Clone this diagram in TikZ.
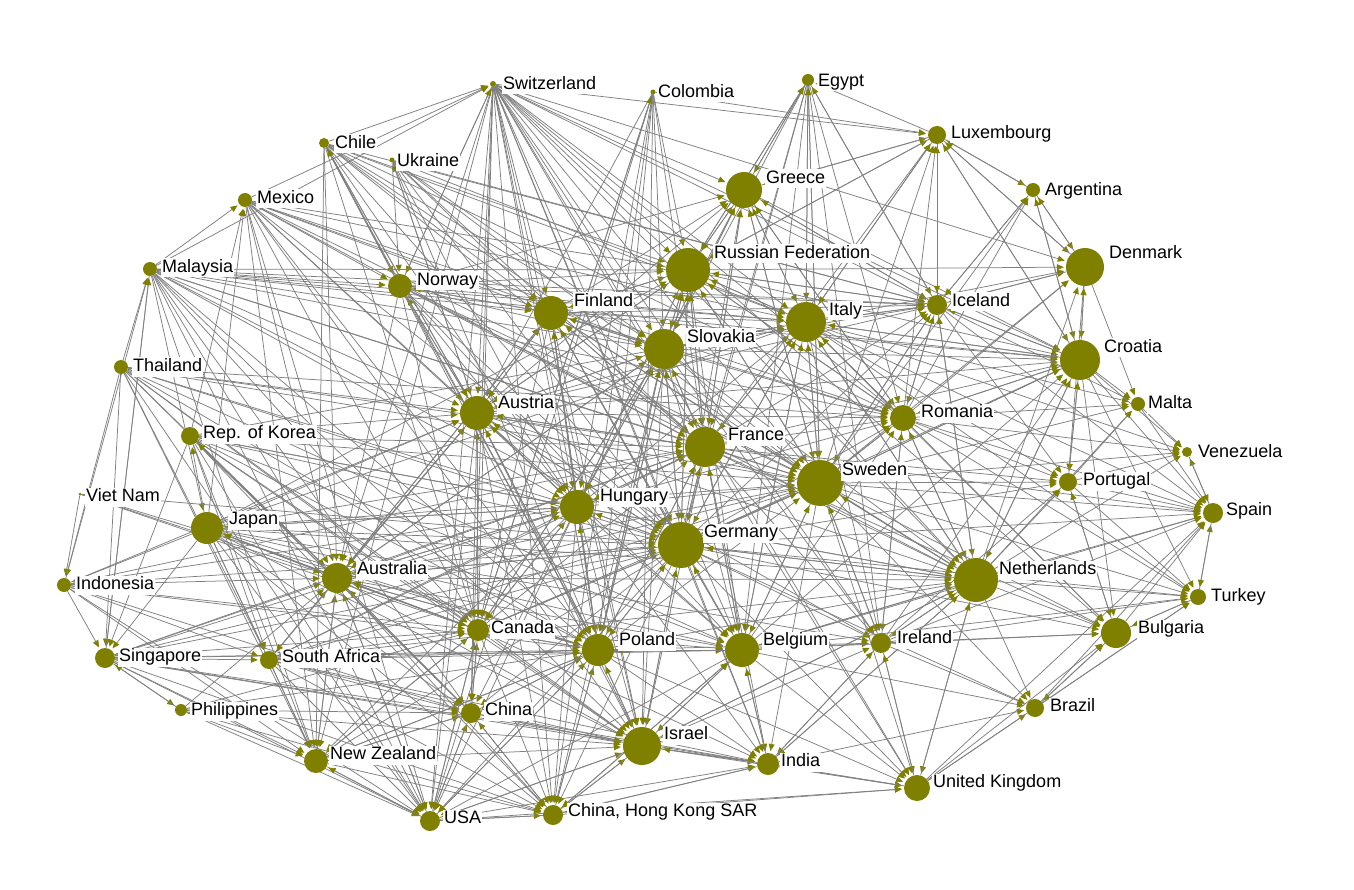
\documentclass[tikz,border=0pt]{standalone}
\usepackage{fontspec}
\setmainfont{Liberation Sans}
\usetikzlibrary{arrows.meta}
\definecolor{olv}{RGB}{128,128,0}
\definecolor{edg}{RGB}{128,128,128}
\pgfdeclarelayer{bg}
\pgfdeclarelayer{edges}
\pgfsetlayers{bg,edges,main}
\tikzset{
  vtx/.style={circle,fill=olv,draw=none,inner sep=0pt},
  lbl/.style={anchor=west,fill=white,inner sep=1pt,text height=13pt,text depth=4pt,font=\fontsize{18}{20}\selectfont,text=black},
  edge/.style={draw=edg,line width=0.75pt,shorten >=2pt,-{Triangle[length=7pt,width=6pt,color=olv]}}
}
\begin{document}
\begin{tikzpicture}[x=1pt,y=-1pt]
\begin{pgfonlayer}{bg}
\fill[white] (0,0) rectangle (1354,890);
\end{pgfonlayer}
\useasboundingbox (0,0) rectangle (1354,890);
\foreach \n/\x/\y/\d in {
 SUI/493/84/6, COL/653/92/5, EGY/808/80/12, CHL/324/143/10, UKR/392/160/5,
 LUX/937/135/18, GRE/744/190/36, ARG/1033/190/14, MEX/245/200/14, MAS/150/269/14,
 RUS/688/270/44, DEN/1085/267/38, NOR/400/286/24, FIN/551/313/34, ITA/806/322/40,
 ISL/937/305/20, SVK/664/349/40, CRO/1080/360/40, THA/121/367/14, AUT/477/413/34,
 ROU/903/418/26, MLT/1138/404/14, KOR/190/436/18, FRA/705/447/40, SWE/820/483/46,
 VEN/1187/452/10, VIE/80/494/3, POR/1068/482/18, HUN/577/507/34, JPN/207/528/32,
 ESP/1213/513/20, GER/681/545/46, AUS/337/578/30, NED/976/580/44, INA/64/585/14,
 TUR/1198/597/16, BUL/1116/633/30, CAN/478/630/22, POL/598/650/32, BEL/742/650/34,
 IRL/881/643/20, SIN/105/658/20, RSA/269/660/18, PHI/181/710/12, CHN/471/713/20,
 BRA/1035/708/18, ISR/642/746/38, NZL/316/761/24, IND/768/764/22, GBR/917/788/26,
 USA/430/821/20, HKG/553/815/20}
{\node[vtx,minimum size=\d pt] (\n) at (\x,\y) {};}
\begin{pgfonlayer}{edges}
\foreach \s/\tl in {
 SUI/{GRE,RUS,FIN,SVK,ITA,AUT,HUN,FRA,GER,SWE,POL,CAN,AUS,ISR,BEL,USA,HKG,CHN,NZL,NED,IRL,NOR,LUX,ISL,ROU,CRO,IND,GBR,BUL,DEN},
 COL/{CAN,POL,ISR,SVK,FRA,RUS,HUN,AUT,LUX,USA,HKG},
 EGY/{GRE,ITA,RUS,FRA,SWE,ISL,ROU,GER,SVK,IRL,BEL},
 CHL/{NOR,FIN,AUT,RUS,SVK,HUN,SWE,GER,AUS,CAN,ISR,ITA,FRA,POL,NZL,ROU,ISL,SUI},
 UKR/{AUT,HUN,SVK,GER,POL,NOR,FIN,FRA,SWE,ITA,ISL},
 MEX/{AUT,FIN,RUS,SVK,ITA,GER,AUS,HUN,CAN,NOR,POL,FRA,ISR,USA,NZL,SWE,ROU,SUI},
 MAS/{NOR,FIN,AUT,GER,AUS,CAN,RUS,HUN,SVK,ITA,FRA,POL,SWE,ISL,CHN,NZL,USA,SIN,JPN,ROU,ISR,CRO,MEX,SUI},
 THA/{INA,AUS,AUT,CAN,GER,HUN,POL,FRA,SWE,ISR,NZL,USA,CHN,RSA,SIN,BEL,ROU,MAS},
 VIE/{INA,AUS,CAN,POL,GER},
 KOR/{AUS,AUT,HUN,GER,CAN,CHN,FRA,SWE,POL,ISR,BEL,NZL,USA,HKG,NED,ITA,SIN,RSA,MEX},
 JPN/{AUS,AUT,HUN,GER,CAN,CHN,POL,FRA,SWE,ISR,BEL,NED,NZL,USA,HKG,RSA,SIN,KOR,INA,IRL,ITA,RUS,MEX},
 INA/{SIN,AUS,CAN,HUN,GER,POL,NZL,USA,CHN,RSA,AUT,FRA,MAS},
 SIN/{AUS,CAN,NZL,USA,CHN,HKG,RSA,POL,HUN,GER,ISR,BEL,IND,PHI,FRA,SWE,MAS},
 RSA/{AUS,CAN,CHN,NZL,USA,POL,HUN,GER,ISR,BEL,HKG,IND,SWE,FRA,NED,AUT},
 PHI/{NZL,USA,AUS,CHN,CAN,POL,HKG,ISR,SIN},
 NZL/{USA,HKG,CHN,AUS,CAN,ISR,POL},
 USA/{HKG,CHN,CAN,AUS,NZL,POL,ISR,IND,GBR},
 HKG/{USA,ISR,IND,GBR,POL,CHN,BEL},
 CHN/{CAN,USA,HKG,ISR,POL,AUS,NZL,IND},
 CAN/{AUS,AUT,HUN,GER,POL,USA,HKG,NZL,ISR,CHN,FRA,BEL,SWE,SVK,IND,JPN,COL},
 AUS/{AUT,HUN,GER,CAN,CHN,NZL,USA,HKG,POL,ISR,FRA,BEL,SWE,NED,SVK,FIN,JPN,KOR,RSA},
 AUT/{FIN,RUS,SVK,HUN,FRA,GER,ITA,SWE,NOR,POL,BEL,ISR,CAN,AUS,NED,ROU,CRO,ISL,GRE,IRL,CHN,USA,HKG,CHL,UKR},
 HUN/{AUT,FIN,SVK,RUS,FRA,GER,POL,BEL,ISR,CAN,AUS,SWE,ITA,CHN,HKG,IND,NED,ROU,GRE,USA,NZL,JPN},
 NOR/{FIN,RUS,AUT,SVK,HUN,ITA,FRA,GER,SWE,CAN,AUS,POL,ISL,GRE,NED,BEL,CHL,SUI},
 FIN/{RUS,SVK,AUT,HUN,FRA,GER,ITA,SWE,POL,BEL,ISR,CAN,AUS,NED,ISL,GRE,NOR,ROU,CRO},
 RUS/{GRE,ITA,SVK,FRA,SWE,ISL,LUX,CRO,DEN,ROU,EGY,FIN,GER,NED,HUN,AUT,POL,BEL},
 GRE/{RUS,ITA,SVK,ISL,LUX,EGY,FRA,SWE,ROU,CRO},
 SVK/{RUS,FIN,ITA,FRA,AUT,HUN,GER,SWE,POL,BEL,ISR,CAN,AUS,NED,CRO,ROU,GRE,ISL,IRL,HKG},
 ITA/{RUS,GRE,ISL,SVK,FRA,SWE,CRO,ROU,GER,NED,BEL,IRL,LUX,DEN,ESP,POR,MLT,VEN,BUL,TUR,EGY},
 ISL/{LUX,CRO,ITA,RUS,SWE,ROU,NED,GRE,ARG,DEN,POR,MLT,ESP,EGY},
 LUX/{ISL,CRO,DEN,ARG,ITA,GRE,RUS,EGY},
 ARG/{DEN,CRO,ISL,LUX},
 DEN/{CRO,ARG,LUX,ISL,MLT,POR},
 CRO/{MLT,VEN,POR,ESP,TUR,BUL,DEN,ISL,ROU,NED,LUX,ARG,ITA,SWE},
 ROU/{ISL,ITA,CRO,SWE,NED,POR,MLT,VEN,ESP,TUR,BUL,IRL,LUX,DEN,GRE,RUS,ARG},
 FRA/{RUS,SVK,ITA,SWE,GER,HUN,AUT,FIN,BEL,POL,ISR,NED,ROU,CRO,ISL,IRL,IND,GBR,GRE,ESP,POR,LUX,BUL},
 SWE/{RUS,ITA,NED,ROU,CRO,ISL,DEN,GRE,POR,ESP,VEN,MLT,TUR,BUL,IRL,GBR,BRA,BEL,IND,LUX,ARG,EGY,GER},
 GER/{FRA,SVK,HUN,RUS,AUT,SWE,ITA,POL,BEL,ISR,NED,CAN,AUS,FIN,IRL,IND,GBR,CHN,HKG,USA,CRO,ROU,BUL,ESP,POR,TUR,BRA,NZL,GRE,ISL},
 POL/{HUN,GER,BEL,ISR,CAN,AUS,FRA,SVK,AUT,SWE,IND,HKG,CHN,USA,RUS,FIN,NZL,IRL,GBR,NED},
 BEL/{GER,POL,ISR,IRL,NED,SWE,FRA,ITA,IND,GBR,HKG,USA,BUL,BRA,TUR,ESP,ROU,CRO},
 NED/{SWE,IRL,GBR,BUL,TUR,ESP,POR,CRO,ROU,ITA,IND,BRA,VEN,MLT,DEN,ISL,BEL,GER,ISR},
 ISR/{POL,BEL,GER,IND,HKG,USA,GBR,IRL,NED,CHN},
 IRL/{NED,GBR,BRA,BUL,TUR,ESP,POR,IND,ROU,CRO,SWE},
 IND/{GBR,IRL,ISR,HKG,BRA,NED,BEL},
 GBR/{BRA,BUL,TUR,ESP,IRL,NED,IND},
 POR/{ESP,VEN,TUR,MLT,CRO,BUL},
 BUL/{TUR,ESP,BRA,POR},
 BRA/{TUR,BUL,ESP},
 TUR/{ESP,BUL},
 ESP/{VEN,TUR},
 MLT/{VEN,ESP},
 VEN/{ESP}}
{\foreach \t in \tl {\draw[edge] (\s) -- (\t);}}
\end{pgfonlayer}
\foreach \n/\x/\y/\txt in {
 SUI/503/85/Switzerland, COL/658/93/Colombia, EGY/818/82/Egypt, CHL/335/144/Chile,
 UKR/397/162/Ukraine, LUX/951/134/Luxembourg, GRE/766/179/Greece, ARG/1045/191/Argentina,
 MEX/257/199/Mexico, MAS/162/268/Malaysia, RUS/714/254/Russian Federation, DEN/1109/254/Denmark,
 NOR/417/281/Norway, FIN/574/302/Finland, ITA/829/311/Italy, ISL/952/302/Iceland,
 SVK/687/338/Slovakia, CRO/1104/348/Croatia, THA/133/367/Thailand, AUT/498/404/Austria,
 ROU/921/413/Romania, MLT/1148/404/Malta, KOR/203/434/Rep. of Korea, FRA/728/436/France,
 SWE/842/471/Sweden, VEN/1198/453/Venezuela, VIE/86/497/Viet Nam, POR/1083/481/Portugal,
 HUN/600/497/Hungary, JPN/229/520/Japan, ESP/1226/511/Spain, GER/704/533/Germany,
 AUS/357/570/Australia, NED/999/570/Netherlands, INA/76/585/Indonesia, TUR/1211/597/Turkey,
 BUL/1138/629/Bulgaria, CAN/491/629/Canada, POL/619/641/Poland, BEL/763/641/Belgium,
 IRL/897/639/Ireland, SIN/119/657/Singapore, RSA/282/658/South Africa, PHI/191/711/Philippines,
 CHN/485/711/China, BRA/1050/707/Brazil, ISR/664/735/Israel, NZL/330/755/New Zealand,
 IND/781/762/India, GBR/933/783/United Kingdom, USA/444/819/USA, HKG/568/812/{China, Hong Kong SAR}}
{\node[lbl] (\n-l) at (\x-1,\y) {\txt};}
\end{tikzpicture}
\end{document}
